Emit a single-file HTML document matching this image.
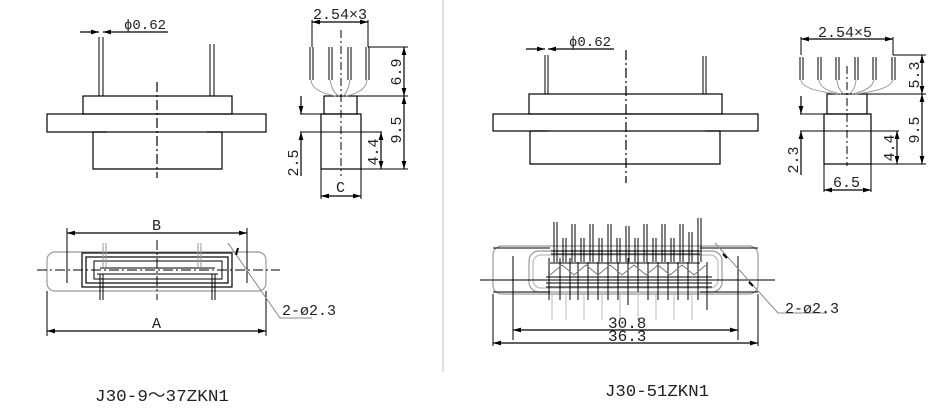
<!DOCTYPE html>
<html><head><meta charset="utf-8"><style>
html,body{margin:0;padding:0;background:#fff;}
svg{display:block;}
text{font-family:"Liberation Mono","Noto Sans CJK SC",monospace;fill:#222;}
</style></head><body>
<svg width="932" height="409" viewBox="0 0 932 409" xmlns="http://www.w3.org/2000/svg">
<defs>
<marker id="a" viewBox="0 0 10 6" refX="10" refY="3" markerWidth="8" markerHeight="4" orient="auto-start-reverse"><path d="M0,0L10,3L0,6z" fill="#000"/></marker>
</defs>
<g stroke="#000" stroke-width="1.2" fill="none">
<line x1="443" y1="0" x2="443" y2="372" stroke="#ccc"/>

<!-- LEFT FRONT VIEW -->
<rect x="83" y="96" width="149" height="18"/>
<rect x="47" y="114" width="219" height="18"/>
<path d="M93,132V169H222V132M93,132H107M207,132H222"/>
<line x1="157" y1="82" x2="157" y2="178" stroke-dasharray="10,3,2,3"/>
<path d="M99,37V96M103,37V96M210,44V96M214,44V96" stroke-width="1"/>
<line x1="80" y1="32" x2="99" y2="32" marker-end="url(#a)"/>
<line x1="168" y1="32" x2="103" y2="32" marker-end="url(#a)"/>

<!-- LEFT SIDE VIEW -->
<rect x="324" y="96" width="33" height="18"/>
<rect x="321" y="114" width="40" height="55"/>
<line x1="341" y1="30" x2="341" y2="176" stroke-dasharray="8,3,2,3" stroke-width="1"/>
<g stroke-width="1">
<path d="M310,47V80M313,47V80M329,47V80M332,47V80M348,47V80M351,47V80M366,47V80M369,47V80"/>
<path d="M311,80Q312,92 336,96M330,80Q332,92 339,96M350,80Q348,92 343,96M367,80Q366,92 346,96" stroke="#999"/>
</g>
<path d="M312,47V20M368,47V20" stroke-width="1"/>
<line x1="340" y1="22" x2="312" y2="22" marker-end="url(#a)"/>
<line x1="340" y1="22" x2="368" y2="22" marker-end="url(#a)"/>
<path d="M368,47H408M357,96H408M361,169H408M300,114H324M300,132H382" stroke-width="1"/>
<line x1="404" y1="72" x2="404" y2="47" marker-end="url(#a)"/>
<line x1="404" y1="72" x2="404" y2="96" marker-end="url(#a)"/>
<line x1="404" y1="130" x2="404" y2="96" marker-end="url(#a)"/>
<line x1="404" y1="130" x2="404" y2="169" marker-end="url(#a)"/>
<line x1="381" y1="150" x2="381" y2="132" marker-end="url(#a)"/>
<line x1="381" y1="150" x2="381" y2="169" marker-end="url(#a)"/>
<line x1="301" y1="96" x2="301" y2="114" marker-end="url(#a)"/>
<line x1="301" y1="176" x2="301" y2="132" marker-end="url(#a)"/>
<path d="M321,169V199M361,169V199" stroke-width="1"/>
<line x1="341" y1="196" x2="321" y2="196" marker-end="url(#a)"/>
<line x1="341" y1="196" x2="361" y2="196" marker-end="url(#a)"/>

<!-- LEFT BOTTOM VIEW -->
<rect x="47" y="252" width="219" height="39" rx="8" stroke="#999"/>
<rect x="82" y="253" width="150" height="34"/>
<rect x="86" y="257" width="142" height="26"/>
<path d="M94,261H222V279H94z" stroke-width="1"/>
<path d="M37,270H280" stroke-dasharray="10,3,2,3" stroke-width="1"/>
<path d="M157,240V300" stroke-dasharray="10,3,2,3" stroke-width="1"/>
<path d="M103,243V267M106,243V267M198,243V267M201,243V267" stroke="#999" stroke-width="1"/>
<path d="M100,274V300M103,274V300M212,274V300M215,274V300" stroke-width="1"/>
<path d="M100,268H215M97,274H218" stroke-width="1"/>
<path d="M67,228V283M247,228V283" stroke-width="1"/>
<line x1="157" y1="233" x2="67" y2="233" marker-end="url(#a)"/>
<line x1="157" y1="233" x2="247" y2="233" marker-end="url(#a)"/>
<path d="M47,291V336M266,291V336" stroke-width="1"/>
<line x1="157" y1="331" x2="47" y2="331" marker-end="url(#a)"/>
<line x1="157" y1="331" x2="266" y2="331" marker-end="url(#a)"/>
<path d="M228,243L280,318H312" stroke="#888" stroke-width="1"/>
<line x1="238" y1="248" x2="236" y2="255" stroke-width="2"/>

<!-- RIGHT FRONT VIEW -->
<rect x="529" y="94" width="193" height="20"/>
<rect x="493" y="114" width="265" height="17"/>
<path d="M530,131V164H720V131M530,131H548M705,131H720"/>
<line x1="626" y1="50" x2="626" y2="183" stroke-dasharray="10,3,2,3"/>
<path d="M545,55V94M548,55V94M703,56V94M706,56V94" stroke-width="1"/>
<line x1="526" y1="49" x2="545" y2="49" marker-end="url(#a)"/>
<line x1="614" y1="49" x2="548" y2="49" marker-end="url(#a)"/>

<!-- RIGHT SIDE VIEW -->
<rect x="827" y="94" width="40" height="20"/>
<rect x="824" y="114" width="47" height="50"/>
<line x1="847" y1="66" x2="847" y2="166" stroke-dasharray="8,3,2,3" stroke-width="1"/>
<g stroke-width="1">
<path d="M800,57V80M803,57V80M818,57V80M821,57V80M836,57V80M839,57V80M855,57V80M858,57V80M873,57V80M876,57V80M892,57V80M895,57V80"/>
<path d="M801,80Q802,90 838,94M819,80Q820,90 841,94M837,80Q838,90 844,94M856,80Q855,90 849,94M874,80Q872,90 852,94M893,80Q890,90 855,94" stroke="#999"/>
</g>
<path d="M801,55V37M893,55V37" stroke-width="1"/>
<line x1="847" y1="39" x2="801" y2="39" marker-end="url(#a)"/>
<line x1="847" y1="39" x2="893" y2="39" marker-end="url(#a)"/>
<path d="M893,55H926M867,94H926M871,164H926M800,114H827M800,131H899" stroke-width="1"/>
<line x1="922" y1="75" x2="922" y2="55" marker-end="url(#a)"/>
<line x1="922" y1="75" x2="922" y2="94" marker-end="url(#a)"/>
<line x1="922" y1="130" x2="922" y2="94" marker-end="url(#a)"/>
<line x1="922" y1="130" x2="922" y2="164" marker-end="url(#a)"/>
<line x1="897" y1="148" x2="897" y2="131" marker-end="url(#a)"/>
<line x1="897" y1="148" x2="897" y2="164" marker-end="url(#a)"/>
<line x1="801" y1="96" x2="801" y2="114" marker-end="url(#a)"/>
<line x1="801" y1="175" x2="801" y2="131" marker-end="url(#a)"/>
<path d="M824,164V192M871,164V192" stroke-width="1"/>
<line x1="847" y1="190" x2="824" y2="190" marker-end="url(#a)"/>
<line x1="847" y1="190" x2="871" y2="190" marker-end="url(#a)"/>

<!-- RIGHT BOTTOM VIEW -->
<rect x="493" y="246" width="265" height="48" rx="9" stroke="#999"/>
<rect x="529" y="251" width="193" height="41" rx="10" stroke="#999"/>
<rect x="533" y="255" width="185" height="33" rx="8" stroke="#bbb"/>
<path d="M493,248H550M700,248H758M493,292H550M700,292H758" stroke-width="1"/>
<path d="M480,280H775" stroke-width="1"/>
<path d="M513,256V340M738,256V340" stroke-width="1"/>
<g stroke-width="1">
<path d="M554,222V262M557,222V262M572,224V262M575,224V262M590,224V262M593,224V262M608,224V262M611,224V262M626,226V262M629,226V262M644,224V262M647,224V262M662,224V262M665,224V262M680,224V262M683,224V262M698,218V262M701,218V262"/>
<path d="M563,238V262M566,238V262M581,238V262M584,238V262M599,238V262M602,238V262M617,238V262M620,238V262M635,238V262M638,238V262M653,238V262M656,238V262M671,238V262M674,238V262M689,232V262M692,232V262"/>
<path d="M549,258V300M560,258V300M570,258V300M578,262V300M588,262V300M598,262V300M608,262V300M618,262V300M628,258V305M638,262V300M648,262V300M658,262V300M668,262V300M678,262V300M688,262V300M698,262V300M707,262V310"/>
<path d="M551,251H700M551,254H700M550,263H700M546,277H712M546,283H712M546,287H712"/>
<path d="M550,275L562,265L574,275L586,265L598,275L610,265L622,275L634,265L646,275L658,265L670,275L682,265L694,275L706,265" stroke="#777"/>
<path d="M552,292V320M566,292V320M584,292V320M602,292V320M620,292V320M638,292V320M656,292V320M674,292V320M692,292V320" stroke="#bbb"/>
</g>
<line x1="627" y1="330" x2="513" y2="330" marker-end="url(#a)"/>
<line x1="627" y1="330" x2="738" y2="330" marker-end="url(#a)"/>
<path d="M493,294V346M758,294V346" stroke-width="1"/>
<line x1="627" y1="343" x2="493" y2="343" marker-end="url(#a)"/>
<line x1="627" y1="343" x2="758" y2="343" marker-end="url(#a)"/>
<path d="M715,243L778,313H827" stroke="#888" stroke-width="1"/>
<line x1="723" y1="254" x2="727" y2="258" stroke-width="2"/>
<line x1="749" y1="282" x2="753" y2="286" stroke-width="2"/>
</g>

<g font-size="14">
<text x="124" y="29">ϕ0.62</text>
<text x="313" y="19" font-size="15">2.54×3</text>
<text x="569" y="46">ϕ0.62</text>
<text x="818" y="37" font-size="15">2.54×5</text>
<text x="152" y="230" font-size="15">B</text>
<text x="152" y="328" font-size="15">A</text>
<text x="336" y="192" font-size="15">C</text>
<text x="282" y="315" font-size="15">2-ø2.3</text>
<text x="785" y="313" font-size="15">2-ø2.3</text>
<text x="608" y="328" font-size="16">30.8</text>
<text x="608" y="341" font-size="16">36.3</text>
<text x="833" y="187" font-size="15">6.5</text>
<text transform="translate(401,72) rotate(-90)" text-anchor="middle" font-size="15">6.9</text>
<text transform="translate(401,130) rotate(-90)" text-anchor="middle" font-size="15">9.5</text>
<text transform="translate(378,152) rotate(-90)" text-anchor="middle" font-size="15">4.4</text>
<text transform="translate(298,163) rotate(-90)" text-anchor="middle" font-size="15">2.5</text>
<text transform="translate(919,75) rotate(-90)" text-anchor="middle" font-size="15">5.3</text>
<text transform="translate(919,130) rotate(-90)" text-anchor="middle" font-size="15">9.5</text>
<text transform="translate(894,148) rotate(-90)" text-anchor="middle" font-size="15">4.4</text>
<text transform="translate(798,160) rotate(-90)" text-anchor="middle" font-size="15">2.3</text>
</g>
<g font-size="17">
<text x="95" y="401" textLength="134" lengthAdjust="spacingAndGlyphs">J30-9～37ZKN1</text>
<text x="605" y="396" textLength="104" lengthAdjust="spacingAndGlyphs">J30-51ZKN1</text>
</g>
</svg>
</body></html>
